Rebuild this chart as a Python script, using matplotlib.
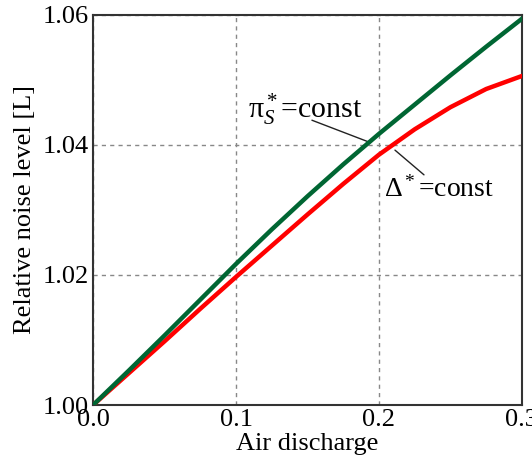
import matplotlib
matplotlib.use("Agg")
import matplotlib.pyplot as plt

x_vals = [0.0, 0.025, 0.05, 0.075, 0.1, 0.125, 0.15, 0.175, 0.2, 0.225, 0.25, 0.275, 0.3]
pi_const = [1.0, 1.0053, 1.0107, 1.0162, 1.0217, 1.0270, 1.0321, 1.0370, 1.0417, 1.0462, 1.0507, 1.0551, 1.0594]
delta_const = [1.0, 1.0049, 1.0098, 1.0148, 1.0197, 1.0245, 1.0293, 1.0340, 1.0385, 1.0424, 1.0458, 1.0486, 1.0506]
x_ticks = [0.0, 0.1, 0.2, 0.3]
x_ticklabels = ["0.0", "0.1", "0.2", "0.3"]
y_ticks = [1.00, 1.02, 1.04, 1.06]
y_ticklabels = ["1.00", "1.02", "1.04", "1.06"]

plt.rcParams['font.family'] = ['Liberation Serif', 'DejaVu Serif']
plt.rcParams['mathtext.fontset'] = 'custom'
plt.rcParams['mathtext.rm'] = 'Liberation Serif'
plt.rcParams['mathtext.it'] = 'Liberation Serif:italic'

fig = plt.figure(figsize=(5.32, 4.65), dpi=100)
ax = fig.add_axes([0.175, 0.129, 0.806, 0.839])

ax.plot(x_vals, delta_const, color='#ff0000', lw=3.2, zorder=3)
ax.plot(x_vals, pi_const, color='#006633', lw=3.2, zorder=4)

ax.set_xlim(0, 0.3)
ax.set_ylim(1.0, 1.06)
ax.set_xticks(x_ticks)
ax.set_xticklabels(x_ticklabels)
ax.set_yticks(y_ticks)
ax.set_yticklabels(y_ticklabels)
ax.tick_params(length=0, labelsize=19, pad=3)
ax.grid(True, ls=(0, (3, 3)), color='#888888', lw=1)
for s in ax.spines.values():
    s.set_color('#333333')
    s.set_linewidth(1.5)

ax.set_xlabel('Air discharge', fontsize=19, labelpad=1)
ax.set_ylabel('Relative noise level [L]', fontsize=19, labelpad=5)

ax.text(0.1084, 1.0443, 'π$_S^*$=const', fontsize=21.5, ha='left', va='baseline')
ax.annotate('', xy=(0.1923, 1.0405), xytext=(0.1531, 1.0438),
            arrowprops=dict(arrowstyle='-', color='#222222', lw=1,
                            shrinkA=0, shrinkB=0))
ax.text(0.2035, 1.0320, 'Δ$^*$=const', fontsize=20, ha='left', va='baseline')
ax.annotate('', xy=(0.2112, 1.0392), xytext=(0.2315, 1.0354),
            arrowprops=dict(arrowstyle='-', color='#222222', lw=1,
                            shrinkA=0, shrinkB=0))

fig.savefig('out.png', dpi=100)
